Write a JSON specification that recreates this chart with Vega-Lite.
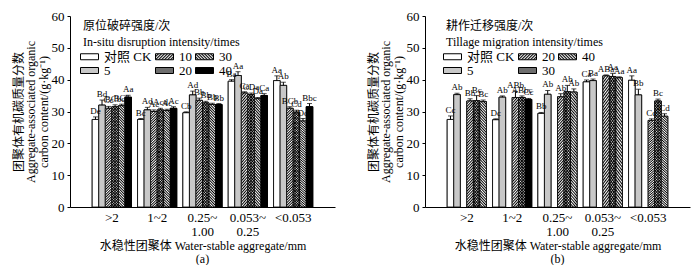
{
  "$schema": "https://vega.github.io/schema/vega-lite/v6.json",
  "padding": {"left": 12, "top": 10, "right": 2, "bottom": 0},
  "spacing": 32,
  "params": [
    {"name": "st", "value": [
      {"offset":0,"color":"#000"},{"offset":0.0125,"color":"transparent"},{"offset":0.025,"color":"#000"},{"offset":0.0375,"color":"transparent"},
      {"offset":0.05,"color":"#000"},{"offset":0.0625,"color":"transparent"},{"offset":0.075,"color":"#000"},{"offset":0.0875,"color":"transparent"},
      {"offset":0.1,"color":"#000"},{"offset":0.1125,"color":"transparent"},{"offset":0.125,"color":"#000"},{"offset":0.1375,"color":"transparent"},
      {"offset":0.15,"color":"#000"},{"offset":0.1625,"color":"transparent"},{"offset":0.175,"color":"#000"},{"offset":0.1875,"color":"transparent"},
      {"offset":0.2,"color":"#000"},{"offset":0.2125,"color":"transparent"},{"offset":0.225,"color":"#000"},{"offset":0.2375,"color":"transparent"},
      {"offset":0.25,"color":"#000"},{"offset":0.2625,"color":"transparent"},{"offset":0.275,"color":"#000"},{"offset":0.2875,"color":"transparent"},
      {"offset":0.3,"color":"#000"},{"offset":0.3125,"color":"transparent"},{"offset":0.325,"color":"#000"},{"offset":0.3375,"color":"transparent"},
      {"offset":0.35,"color":"#000"},{"offset":0.3625,"color":"transparent"},{"offset":0.375,"color":"#000"},{"offset":0.3875,"color":"transparent"},
      {"offset":0.4,"color":"#000"},{"offset":0.4125,"color":"transparent"},{"offset":0.425,"color":"#000"},{"offset":0.4375,"color":"transparent"},
      {"offset":0.45,"color":"#000"},{"offset":0.4625,"color":"transparent"},{"offset":0.475,"color":"#000"},{"offset":0.4875,"color":"transparent"},
      {"offset":0.5,"color":"#000"},{"offset":0.5125,"color":"transparent"},{"offset":0.525,"color":"#000"},{"offset":0.5375,"color":"transparent"},
      {"offset":0.55,"color":"#000"},{"offset":0.5625,"color":"transparent"},{"offset":0.575,"color":"#000"},{"offset":0.5875,"color":"transparent"},
      {"offset":0.6,"color":"#000"},{"offset":0.6125,"color":"transparent"},{"offset":0.625,"color":"#000"},{"offset":0.6375,"color":"transparent"},
      {"offset":0.65,"color":"#000"},{"offset":0.6625,"color":"transparent"},{"offset":0.675,"color":"#000"},{"offset":0.6875,"color":"transparent"},
      {"offset":0.7,"color":"#000"},{"offset":0.7125,"color":"transparent"},{"offset":0.725,"color":"#000"},{"offset":0.7375,"color":"transparent"},
      {"offset":0.75,"color":"#000"},{"offset":0.7625,"color":"transparent"},{"offset":0.775,"color":"#000"},{"offset":0.7875,"color":"transparent"},
      {"offset":0.8,"color":"#000"},{"offset":0.8125,"color":"transparent"},{"offset":0.825,"color":"#000"},{"offset":0.8375,"color":"transparent"},
      {"offset":0.85,"color":"#000"},{"offset":0.8625,"color":"transparent"},{"offset":0.875,"color":"#000"},{"offset":0.8875,"color":"transparent"},
      {"offset":0.9,"color":"#000"},{"offset":0.9125,"color":"transparent"},{"offset":0.925,"color":"#000"},{"offset":0.9375,"color":"transparent"},
      {"offset":0.95,"color":"#000"},{"offset":0.9625,"color":"transparent"},{"offset":0.975,"color":"#000"},{"offset":0.9875,"color":"transparent"},
      {"offset":1,"color":"#000"}
    ]},
    {"name": "stL", "value": [
      {"offset":0,"color":"#000"},{"offset":0.0625,"color":"#fff"},{"offset":0.125,"color":"#000"},{"offset":0.1875,"color":"#fff"},
      {"offset":0.25,"color":"#000"},{"offset":0.3125,"color":"#fff"},{"offset":0.375,"color":"#000"},{"offset":0.4375,"color":"#fff"},
      {"offset":0.5,"color":"#000"},{"offset":0.5625,"color":"#fff"},{"offset":0.625,"color":"#000"},{"offset":0.6875,"color":"#fff"},
      {"offset":0.75,"color":"#000"},{"offset":0.8125,"color":"#fff"},{"offset":0.875,"color":"#000"},{"offset":0.9375,"color":"#fff"},
      {"offset":1,"color":"#000"}
    ]},
    {"name": "gS", "expr": "{gradient: 'linear', x1: 0, y1: 0, x2: 0.07, y2: 1.06, stops: st}"},
    {"name": "gB", "expr": "{gradient: 'linear', x1: 0, y1: 1, x2: 0.07, y2: -0.06, stops: st}"},
    {"name": "gSL", "expr": "{gradient: 'linear', x1: 0, y1: 0, x2: 1.2, y2: 0.4, stops: stL}"},
    {"name": "gBL", "expr": "{gradient: 'linear', x1: 0, y1: 1, x2: 1.2, y2: 0.6, stops: stL}"}
  ],
  "datasets": {
    "a": [
      {"g":">2","s":"CK","v":27.5,"hi":28.3,"lab":"De"},
      {"g":">2","s":"5","v":32.0,"hi":33.6,"lab":"Bd"},
      {"g":">2","s":"10","v":31.0,"hi":31.6,"lab":"Cc"},
      {"g":">2","s":"20","v":31.5,"hi":32.1,"lab":"BCbc"},
      {"g":">2","s":"30","v":31.8,"hi":32.3,"lab":"BCb"},
      {"g":">2","s":"40","v":34.5,"hi":35.1,"lab":"Aa"},
      {"g":"1~2","s":"CK","v":27.5,"hi":27.8,"lab":"Bc"},
      {"g":"1~2","s":"5","v":30.5,"hi":31.3,"lab":"Ad"},
      {"g":"1~2","s":"10","v":30.0,"hi":30.5,"lab":"Ac"},
      {"g":"1~2","s":"20","v":30.5,"hi":31.0,"lab":"Acd"},
      {"g":"1~2","s":"30","v":30.3,"hi":30.7,"lab":"Ac"},
      {"g":"1~2","s":"40","v":31.0,"hi":31.5,"lab":"Ac"},
      {"g":"0.25~1.00","s":"CK","v":29.6,"hi":29.9,"lab":"Cb"},
      {"g":"0.25~1.00","s":"5","v":35.2,"hi":36.4,"lab":"Ad"},
      {"g":"0.25~1.00","s":"10","v":33.5,"hi":34.2,"lab":"Bb"},
      {"g":"0.25~1.00","s":"20","v":32.7,"hi":33.2,"lab":"Bb"},
      {"g":"0.25~1.00","s":"30","v":32.2,"hi":32.6,"lab":"Bb"},
      {"g":"0.25~1.00","s":"40","v":32.2,"hi":32.5,"lab":"Bb"},
      {"g":"0.053~0.25","s":"CK","v":39.5,"hi":40.0,"lab":"Ba"},
      {"g":"0.053~0.25","s":"5","v":41.3,"hi":42.5,"lab":"Aa"},
      {"g":"0.053~0.25","s":"10","v":35.8,"hi":36.2,"lab":"Ca"},
      {"g":"0.053~0.25","s":"20","v":35.3,"hi":35.8,"lab":"CDa"},
      {"g":"0.053~0.25","s":"30","v":34.0,"hi":34.4,"lab":"Da"},
      {"g":"0.053~0.25","s":"40","v":35.0,"hi":35.6,"lab":"Ca"},
      {"g":"<0.053","s":"CK","v":39.7,"hi":41.2,"lab":"Aa"},
      {"g":"<0.053","s":"5","v":38.2,"hi":39.2,"lab":"Ab"},
      {"g":"<0.053","s":"10","v":31.0,"hi":31.5,"lab":"BCb"},
      {"g":"<0.053","s":"20","v":29.8,"hi":30.4,"lab":"Cd"},
      {"g":"<0.053","s":"30","v":27.0,"hi":27.8,"lab":"Dd"},
      {"g":"<0.053","s":"40","v":31.5,"hi":32.5,"lab":"Bbc"}
    ],
    "b": [
      {"g":">2","s":"CK","v":27.5,"hi":28.6,"lab":"Cc"},
      {"g":">2","s":"5","v":35.3,"hi":35.7,"lab":"Ab"},
      {"g":">2","s":"20","v":33.3,"hi":34.0,"lab":"Bb"},
      {"g":">2","s":"30","v":33.4,"hi":35.0,"lab":"Bc"},
      {"g":">2","s":"40","v":33.1,"hi":33.6,"lab":"Bc"},
      {"g":"1~2","s":"CK","v":27.4,"hi":27.7,"lab":"Dc"},
      {"g":"1~2","s":"5","v":34.5,"hi":34.9,"lab":"Ab"},
      {"g":"1~2","s":"20","v":34.4,"hi":36.3,"lab":"ABb"},
      {"g":"1~2","s":"30","v":34.4,"hi":34.9,"lab":"ABbc"},
      {"g":"1~2","s":"40","v":33.8,"hi":34.1,"lab":"Cc"},
      {"g":"0.25~1.00","s":"CK","v":29.4,"hi":29.7,"lab":"Bb"},
      {"g":"0.25~1.00","s":"5","v":35.4,"hi":36.6,"lab":"Ab"},
      {"g":"0.25~1.00","s":"20","v":34.6,"hi":35.6,"lab":"Ab"},
      {"g":"0.25~1.00","s":"30","v":36.2,"hi":38.2,"lab":"Ab"},
      {"g":"0.25~1.00","s":"40","v":36.1,"hi":37.1,"lab":"Ab"},
      {"g":"0.053~0.25","s":"CK","v":39.3,"hi":39.9,"lab":"Ca"},
      {"g":"0.053~0.25","s":"5","v":39.7,"hi":40.2,"lab":"Ba"},
      {"g":"0.053~0.25","s":"20","v":41.2,"hi":41.5,"lab":"ABa"},
      {"g":"0.053~0.25","s":"30","v":41.0,"hi":42.0,"lab":"Aa"},
      {"g":"0.053~0.25","s":"40","v":40.6,"hi":40.9,"lab":"Aa"},
      {"g":"<0.053","s":"CK","v":39.8,"hi":41.2,"lab":"Aa"},
      {"g":"<0.053","s":"5","v":35.2,"hi":37.0,"lab":"Bb"},
      {"g":"<0.053","s":"20","v":27.2,"hi":27.7,"lab":"Cd"},
      {"g":"<0.053","s":"30","v":33.3,"hi":33.9,"lab":"Bc"},
      {"g":"<0.053","s":"40","v":28.5,"hi":29.3,"lab":"Cd"}
    ]
  },
  "resolve": {"scale": {"fill": "independent"}, "legend": {"fill": "independent"}},
  "hconcat": [
    {
      "width": 265, "height": 191,
      "data": {"name": "a"},
      "title": {"text": "(a)", "orient": "bottom", "offset": 3},
      "encoding": {
        "x": {"field": "g", "type": "nominal", "sort": [">2","1~2","0.25~1.00","0.053~0.25","<0.053"],
          "scale": {"paddingInner": 0.135, "paddingOuter": 0.49},
          "axis": {"title": "水稳性团聚体 Water-stable aggregate/mm", "labelAngle": 0, "ticks": false, "labelPadding": 4, "labelLineHeight": 14, "titlePadding": 2,
            "labelExpr": "datum.label=='0.25~1.00' ? ['0.25~','1.00'] : datum.label=='0.053~0.25' ? ['0.053~','0.25'] : datum.label"}},
        "xOffset": {"field": "s", "type": "nominal", "sort": ["CK","5","10","20","30","40"], "scale": {"paddingInner": 0, "paddingOuter": 0}},
        "y": {"field": "v", "type": "quantitative", "scale": {"domain": [0, 60]},
          "axis": {"values": [0,10,20,30,40,50,60], "tickSize": 3, "labelPadding": 3, "titlePadding": 1, "titleLineHeight": 12.5,
            "title": ["团聚体有机碳质量分数", "Aggregate-associated organic", "carbon content/(g·kg⁻¹)"]}}
      },
      "layer": [
        {"mark": {"type": "bar", "stroke": "black", "strokeWidth": 1},
          "encoding": {"fill": {"field": "s", "type": "nominal",
            "scale": {"domain": ["CK","10","30","5","20","40"], "range": ["white", {"expr": "gSL"}, {"expr": "gBL"}, "#c8c8c8", "#6e6e6e", "black"]},
            "legend": {"orient": "none", "legendX": 13, "legendY": 5, "columns": 3, "direction": "horizontal",
              "title": ["原位破碎强度/次", "In-situ disruption intensity/times"],
              "labelExpr": "datum.label=='CK' ? '对照 CK' : datum.label"}}}},
        {"mark": {"type": "bar", "stroke": "black", "strokeWidth": 0.8},
          "encoding": {"fill": {"condition": [{"test": "datum.s=='5'", "value": "#c8c8c8"}, {"test": "datum.s=='40'", "value": "black"}], "value": "white"}}},
        {"transform": [{"filter": "datum.s=='10' || datum.s=='20'"}], "mark": {"type": "bar", "fill": {"expr": "gS"}}, "encoding": {}},
        {"transform": [{"filter": "datum.s=='20' || datum.s=='30'"}], "mark": {"type": "bar", "fill": {"expr": "gB"}}, "encoding": {}},
        {"mark": {"type": "rule", "color": "black", "strokeWidth": 1}, "encoding": {"y2": {"field": "hi"}}},
        {"mark": {"type": "tick", "orient": "horizontal", "size": 5, "thickness": 1, "color": "black"}, "encoding": {"y": {"field": "hi", "type": "quantitative"}}},
        {"mark": {"type": "text", "fontSize": 9, "baseline": "bottom", "dy": -1, "color": "black"}, "encoding": {"y": {"field": "hi", "type": "quantitative"}, "text": {"field": "lab"}}}
      ]
    },
    {
      "width": 265, "height": 191,
      "data": {"name": "b"},
      "title": {"text": "(b)", "orient": "bottom", "offset": 3},
      "encoding": {
        "x": {"field": "g", "type": "nominal", "sort": [">2","1~2","0.25~1.00","0.053~0.25","<0.053"],
          "scale": {"paddingInner": 0.135, "paddingOuter": 0.49},
          "axis": {"title": "水稳性团聚体 Water-stable aggregate/mm", "labelAngle": 0, "ticks": false, "labelPadding": 4, "labelLineHeight": 14, "titlePadding": 2,
            "labelExpr": "datum.label=='0.25~1.00' ? ['0.25~','1.00'] : datum.label=='0.053~0.25' ? ['0.053~','0.25'] : datum.label"}},
        "xOffset": {"field": "s", "type": "nominal", "sort": ["CK","5","20","30","40"], "scale": {"paddingInner": 0, "paddingOuter": 0}},
        "y": {"field": "v", "type": "quantitative", "scale": {"domain": [0, 60]},
          "axis": {"values": [0,10,20,30,40,50,60], "tickSize": 3, "labelPadding": 3, "titlePadding": 1, "titleLineHeight": 12.5,
            "title": ["团聚体有机碳质量分数", "Aggregate-associated organic", "carbon content/(g·kg⁻¹)"]}}
      },
      "layer": [
        {"mark": {"type": "bar", "stroke": "black", "strokeWidth": 1},
          "encoding": {"fill": {"field": "s", "type": "nominal",
            "scale": {"domain": ["CK","20","40","5","30"], "range": ["white", {"expr": "gSL"}, {"expr": "gBL"}, "#c8c8c8", "#6e6e6e"]},
            "legend": {"orient": "none", "legendX": 21, "legendY": 5, "columns": 3, "direction": "horizontal",
              "title": ["耕作迁移强度/次", "Tillage migration intensity/times"],
              "labelExpr": "datum.label=='CK' ? '对照 CK' : datum.label"}}}},
        {"mark": {"type": "bar", "stroke": "black", "strokeWidth": 0.8},
          "encoding": {"fill": {"condition": [{"test": "datum.s=='5'", "value": "#c8c8c8"}, {"test": "datum.g=='1~2' && datum.s=='40'", "value": "black"}], "value": "white"}}},
        {"transform": [{"filter": "datum.s=='20' || datum.s=='30'"}], "mark": {"type": "bar", "fill": {"expr": "gS"}}, "encoding": {}},
        {"transform": [{"filter": "datum.s=='30' || datum.s=='40'"}], "mark": {"type": "bar", "fill": {"expr": "gB"}}, "encoding": {}},
        {"mark": {"type": "rule", "color": "black", "strokeWidth": 1}, "encoding": {"y2": {"field": "hi"}}},
        {"mark": {"type": "tick", "orient": "horizontal", "size": 5, "thickness": 1, "color": "black"}, "encoding": {"y": {"field": "hi", "type": "quantitative"}}},
        {"mark": {"type": "text", "fontSize": 9, "baseline": "bottom", "dy": -1, "color": "black"}, "encoding": {"y": {"field": "hi", "type": "quantitative"}, "text": {"field": "lab"}}}
      ]
    }
  ],
  "config": {
    "font": "Liberation Serif, Noto Sans CJK SC",
    "view": {"stroke": null},
    "axis": {"grid": false, "domainColor": "black", "tickColor": "black", "labelColor": "black", "titleColor": "black",
      "titleFontWeight": "normal", "labelFontSize": 13, "titleFontSize": 12, "labelFont": "Liberation Serif, Noto Sans CJK SC", "titleFont": "Liberation Serif, Noto Sans CJK SC"},
    "legend": {"symbolType": "M-3,-1H3V1H-3Z", "symbolSize": 36, "symbolStrokeColor": "black", "symbolStrokeWidth": 1,
      "labelFontSize": 13, "titleFontSize": 12, "titleFontWeight": "normal", "titleLineHeight": 16, "titleColor": "black", "labelColor": "black",
      "columnPadding": 1, "rowPadding": -2, "padding": 0, "labelOffset": 8, "titlePadding": 1, "symbolOpacity": 1},
    "title": {"fontSize": 12, "fontWeight": "normal", "color": "black"}
  }
}
